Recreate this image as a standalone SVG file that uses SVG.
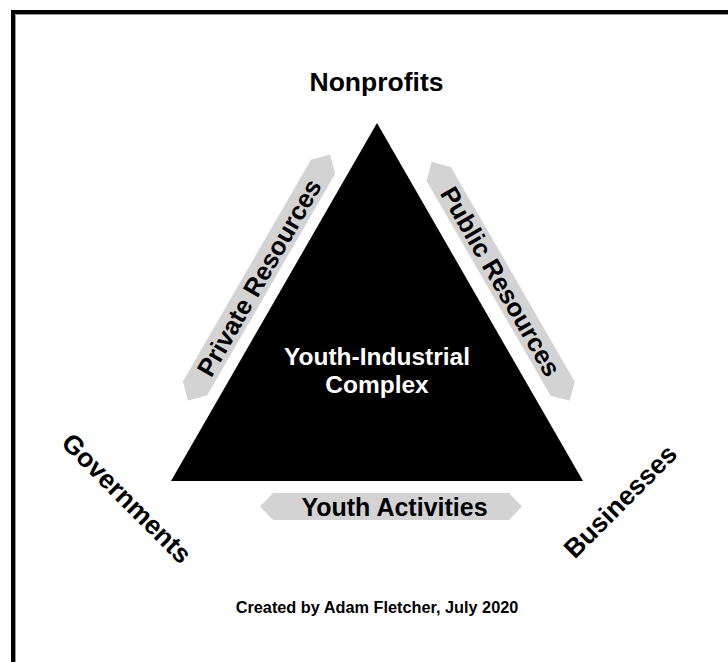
<svg xmlns="http://www.w3.org/2000/svg" width="728" height="662" viewBox="0 0 728 662">
<style>
.t{font-family:"Liberation Sans",Arial,sans-serif;font-weight:bold;text-anchor:middle}
.band{fill:#d3d3d3}
</style>
<defs>
<polygon id="bandL" points="-142,0 -128,-14 128,-14 142,0 128,14 -128,14"/>
<polygon id="bandR" points="-138,0 -124,-14 124,-14 138,0 124,14 -124,14"/>
<polygon id="bandH" points="-131,0 -118,-13.5 118,-13.5 131,0 118,13.5 -118,13.5"/>
</defs>
<rect width="728" height="662" fill="#fff"/>
<g id="frame">
<rect x="13" y="12" width="740" height="700" fill="none" stroke="#000" stroke-width="4"/>
<path d="M15.5,740 V14.5 H740" fill="none" stroke="#999" stroke-width="1"/>
</g>
<g id="complex">
<polygon points="377,123 583,481 171,481" fill="#000"/>
<text class="t" x="377" y="365" font-size="24.5" fill="#fff">Youth-Industrial</text>
<text class="t" x="377" y="393" font-size="24.5" fill="#fff">Complex</text>
</g>
<g id="nonprofits"><text class="t" x="376.5" y="91" font-size="26.5">Nonprofits</text></g>
<g id="governments"><text class="t" transform="translate(127,498) rotate(45)" x="0" y="9.5" font-size="26.5">Governments</text></g>
<g id="businesses"><text class="t" transform="translate(620,501) rotate(-45)" x="0" y="9.5" font-size="26.5">Businesses</text></g>
<g id="connectors">
<g id="private" transform="translate(259,277.6) rotate(-60)">
<use href="#bandL" class="band"/>
<text class="t" x="0" y="9" font-size="25.5">Private Resources</text>
</g>
<g id="public" transform="translate(500.7,281.3) rotate(60)">
<use href="#bandR" class="band"/>
<text class="t" x="0" y="9" font-size="25.5">Public Resources</text>
</g>
<g id="activities" transform="translate(391,506.5)">
<use href="#bandH" class="band"/>
<text class="t" x="3.5" y="9.5" font-size="25">Youth Activities</text>
</g>
</g>
<g id="credit"><text class="t" x="377" y="613" font-size="16.3">Created by Adam Fletcher, July 2020</text></g>
</svg>
